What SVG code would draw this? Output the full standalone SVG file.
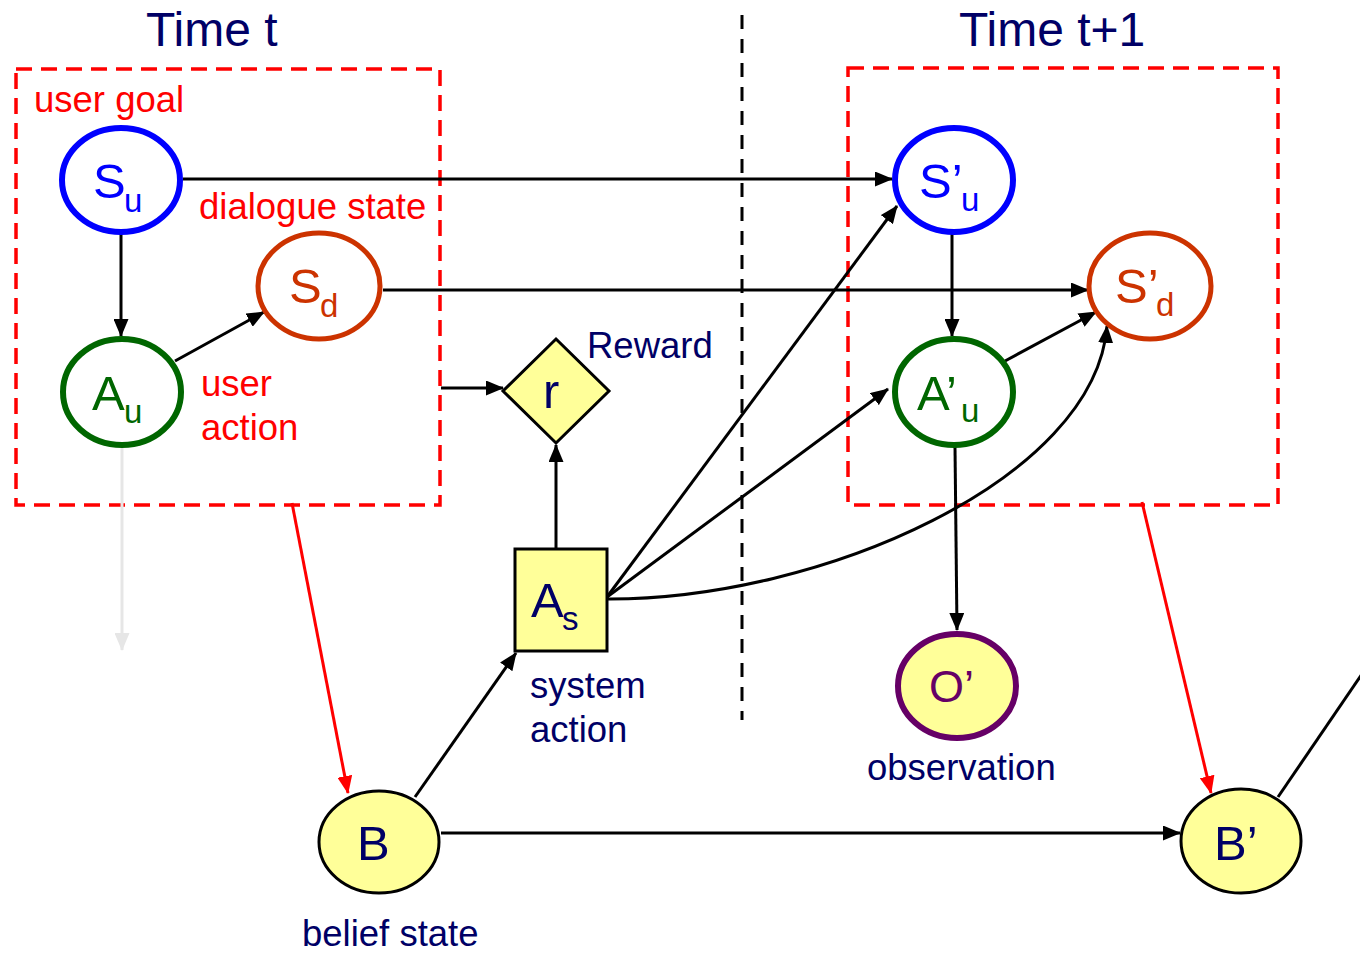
<svg xmlns="http://www.w3.org/2000/svg" width="1360" height="954" viewBox="0 0 1360 954">
  <style>
    .lbl { font-family: "Liberation Sans", Arial, sans-serif; }
    .title { font-size: 48px; fill: #000066; }
    .red { font-size: 36.5px; fill: #ff0000; }
    .navy { font-size: 36.5px; fill: #000066; }
    .big { font-size: 49px; }
    .sub { font-size: 33px; }
    .frame { fill: none; stroke: #ff0000; stroke-width: 3.5; stroke-dasharray: 16 9; }
    .edge { fill: none; stroke: #000; stroke-width: 3; }
    .redge { fill: none; stroke: #ff0000; stroke-width: 3; }
    .yellow { fill: #ffff99; }
  </style>
  <defs>
    <marker id="arr" markerUnits="userSpaceOnUse" markerWidth="19" markerHeight="15" refX="17" refY="7.5" orient="auto">
      <path d="M0,0 L18,7.5 L0,15 Z" fill="#000"/>
    </marker>
    <marker id="arrRed" markerUnits="userSpaceOnUse" markerWidth="19" markerHeight="15" refX="17" refY="7.5" orient="auto">
      <path d="M0,0 L18,7.5 L0,15 Z" fill="#ff0000"/>
    </marker>
    <marker id="arrGrey" markerUnits="userSpaceOnUse" markerWidth="19" markerHeight="15" refX="17" refY="7.5" orient="auto">
      <path d="M0,0 L18,7.5 L0,15 Z" fill="#e6e6e6"/>
    </marker>
  </defs>

  <rect width="1360" height="954" fill="#fff"/>

  <!-- headings and time divider -->
  <text class="lbl title" x="146" y="46">Time t</text>
  <text class="lbl title" x="959" y="46">Time t+1</text>
  <line x1="742" y1="15" x2="742" y2="720" stroke="#000" stroke-width="3" stroke-dasharray="14 10"/>

  <!-- slice frames -->
  <rect class="frame" x="16" y="69" width="424" height="436"/>
  <rect class="frame" x="848" y="68" width="430" height="437"/>

  <!-- connectors -->
  <g id="connectors">
    <line x1="122" y1="448" x2="122" y2="650" stroke="#e6e6e6" stroke-width="3" marker-end="url(#arrGrey)"/>
    <line class="edge" x1="183" y1="179" x2="892" y2="179" marker-end="url(#arr)"/>
    <line class="edge" x1="383" y1="290" x2="1088" y2="290" marker-end="url(#arr)"/>
    <line class="edge" x1="121" y1="234" x2="121" y2="336" marker-end="url(#arr)"/>
    <line class="edge" x1="175" y1="361" x2="264" y2="312" marker-end="url(#arr)"/>
    <line class="edge" x1="441" y1="388" x2="503" y2="388" marker-end="url(#arr)"/>
    <line class="edge" x1="556" y1="548" x2="556" y2="445" marker-end="url(#arr)"/>
    <line class="edge" x1="607" y1="597" x2="897" y2="206" marker-end="url(#arr)"/>
    <line class="edge" x1="607" y1="597" x2="888" y2="389" marker-end="url(#arr)"/>
    <path class="edge" d="M607,599 C820,600 1095,480 1107,326" marker-end="url(#arr)"/>
    <line class="edge" x1="1005" y1="361" x2="1096" y2="312" marker-end="url(#arr)"/>
    <line class="edge" x1="952" y1="234" x2="952" y2="336" marker-end="url(#arr)"/>
    <line class="edge" x1="955" y1="447" x2="957" y2="630" marker-end="url(#arr)"/>
    <line class="edge" x1="415" y1="797" x2="516" y2="653" marker-end="url(#arr)"/>
    <line class="edge" x1="441" y1="833" x2="1180" y2="833" marker-end="url(#arr)"/>
    <line class="edge" x1="1278" y1="797" x2="1362" y2="674"/>
    <line class="redge" x1="292" y1="503" x2="348" y2="793" marker-end="url(#arrRed)"/>
    <line class="redge" x1="1142" y1="502" x2="1211" y2="793" marker-end="url(#arrRed)"/>
  </g>

  <!-- time t -->
  <g id="node-su">
    <ellipse cx="121" cy="180" rx="59" ry="52" fill="#fff" stroke="#0000ff" stroke-width="6"/>
    <text class="lbl" fill="#0000ff"><tspan class="big" x="93" y="198">S</tspan><tspan class="sub" x="124" y="212">u</tspan></text>
  </g>
  <g id="node-sd">
    <ellipse cx="319" cy="286" rx="61" ry="53" fill="#fff" stroke="#cc3300" stroke-width="5"/>
    <text class="lbl" fill="#cc3300"><tspan class="big" x="289" y="303">S</tspan><tspan class="sub" x="320" y="317">d</tspan></text>
  </g>
  <g id="node-au">
    <ellipse cx="122" cy="392" rx="59" ry="53" fill="#fff" stroke="#006600" stroke-width="6"/>
    <text class="lbl" fill="#006600"><tspan class="big" x="92" y="410">A</tspan><tspan class="sub" x="124" y="423">u</tspan></text>
  </g>
  <text class="lbl red" x="34" y="112">user goal</text>
  <text class="lbl red" x="199" y="219">dialogue state</text>
  <text class="lbl red" x="201" y="396">user</text>
  <text class="lbl red" x="201" y="440">action</text>

  <!-- reward and system action -->
  <g id="node-r">
    <polygon points="556,339 609,391 556,443 503,391" class="yellow" stroke="#000" stroke-width="3"/>
    <text class="lbl big" x="543" y="408" fill="#000066">r</text>
  </g>
  <text class="lbl navy" x="587" y="358">Reward</text>
  <g id="node-as">
    <rect x="515" y="549" width="92" height="102" class="yellow" stroke="#000" stroke-width="3"/>
    <text class="lbl" fill="#000066"><tspan class="big" x="531" y="617">A</tspan><tspan class="sub" x="562" y="630">s</tspan></text>
  </g>
  <text class="lbl navy" x="530" y="698">system</text>
  <text class="lbl navy" x="530" y="742">action</text>

  <!-- time t+1 -->
  <g id="node-su1">
    <ellipse cx="954" cy="180" rx="59" ry="52" fill="#fff" stroke="#0000ff" stroke-width="6"/>
    <text class="lbl" fill="#0000ff"><tspan class="big" x="919" y="198">S’</tspan><tspan class="sub" x="961" y="211">u</tspan></text>
  </g>
  <g id="node-sd1">
    <ellipse cx="1150" cy="286" rx="61" ry="53" fill="#fff" stroke="#cc3300" stroke-width="5"/>
    <text class="lbl" fill="#cc3300"><tspan class="big" x="1115" y="303">S’</tspan><tspan class="sub" x="1156" y="316">d</tspan></text>
  </g>
  <g id="node-au1">
    <ellipse cx="954" cy="392" rx="59" ry="53" fill="#fff" stroke="#006600" stroke-width="6"/>
    <text class="lbl" fill="#006600"><tspan class="big" x="917" y="410">A’</tspan><tspan class="sub" x="961" y="422">u</tspan></text>
  </g>
  <g id="node-o">
    <ellipse cx="957" cy="686" rx="59" ry="52" class="yellow" stroke="#660066" stroke-width="6"/>
    <text class="lbl" font-size="45" fill="#660066" x="929" y="702">O’</text>
  </g>
  <text class="lbl navy" x="867" y="780">observation</text>

  <!-- belief states -->
  <g id="node-b">
    <ellipse cx="379" cy="842" rx="60" ry="51" class="yellow" stroke="#000" stroke-width="3"/>
    <text class="lbl big" x="357" y="860" fill="#000066">B</text>
  </g>
  <text class="lbl navy" x="302" y="946">belief state</text>
  <g id="node-b1">
    <ellipse cx="1241" cy="841" rx="60" ry="52" class="yellow" stroke="#000" stroke-width="3"/>
    <text class="lbl big" x="1214" y="860" fill="#000066">B’</text>
  </g>
</svg>
